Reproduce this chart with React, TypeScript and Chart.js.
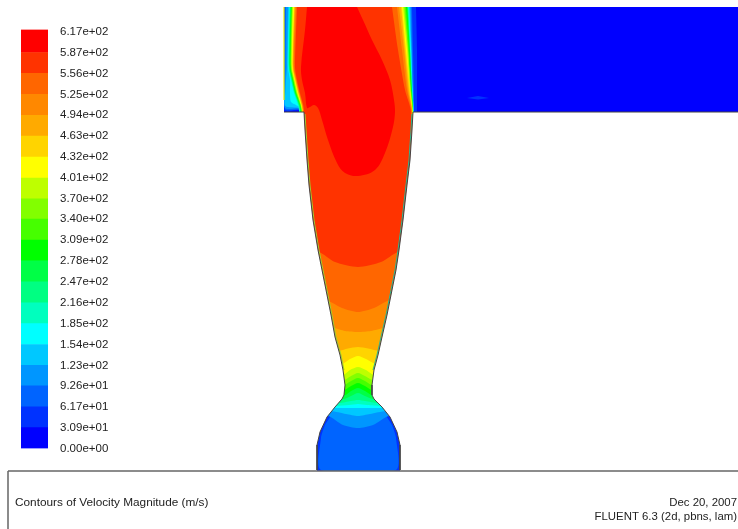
import React, { useEffect, useRef } from "react";
import { Chart, registerables } from "chart.js";

Chart.register(...registerables);

type P = [number, number];

// Legend
const tickValues = [617, 587, 556, 525, 494, 463, 432, 401, 370, 340, 309, 278, 247, 216, 185, 154, 123, 92.6, 61.7, 30.9, 0];
const tickLabels = ["6.17e+02", "5.87e+02", "5.56e+02", "5.25e+02", "4.94e+02", "4.63e+02", "4.32e+02", "4.01e+02", "3.70e+02", "3.40e+02", "3.09e+02", "2.78e+02", "2.47e+02", "2.16e+02", "1.85e+02", "1.54e+02", "1.23e+02", "9.26e+01", "6.17e+01", "3.09e+01", "0.00e+00"];
// band colours from lowest (index 0) to highest (index 19)
const bandColors = ["#0000ff", "#0032ff", "#0064ff", "#0096ff", "#00c8ff", "#00ffff", "#00ffbe", "#00ff82", "#00ff46", "#00ff00", "#46ff00", "#82ff00", "#beff00", "#ffff00", "#ffd400", "#ffaa00", "#ff8800", "#ff6600", "#ff3300", "#ff0000"];
const legendTop = 621;

const titleLeft = "Contours of Velocity Magnitude (m/s)";
const dateLine = "Dec 20, 2007";
const solverLine = "FLUENT 6.3 (2d, pbns, lam)";

// Domain walls
const wallLeft: P[] = [[284, 112], [304, 112], [305, 130], [307, 160], [309, 185], [313, 220], [318, 250], [322, 270], [326, 290], [331, 315], [335, 337], [340, 355], [343, 370], [345, 385], [344, 395], [342, 399], [335, 407], [327, 417], [320, 432], [317, 445], [317, 470]];
const wallRight: P[] = [[738, 112], [413, 112], [412, 130], [410, 160], [407, 185], [403, 220], [399, 250], [396, 270], [392, 290], [387, 315], [382, 337], [378, 355], [374, 370], [372, 385], [372, 395], [374, 399], [382, 407], [390, 417], [397, 432], [400, 445], [400, 470]];
const layerLeft: P[] = [[305, 114], [306, 130], [308, 160], [310, 185], [314, 220], [319, 250], [323, 270], [327, 290], [332, 315], [336, 337], [341, 355], [344, 370]];
const layerRight: P[] = [[412, 114], [411, 130], [409, 160], [406, 185], [402, 220], [398, 250], [395, 270], [391, 290], [386, 315], [381, 337], [377, 355], [373, 370]];
const inletEdge: P[] = [[284, 7], [284, 100]];
const baseBlue: P[] = [[284, 7], [738, 7], [738, 112], [284, 112]];
const streak: P[] = [[467, 98], [478, 96], [489, 98], [478, 99.5]];
const footerTop: P[] = [[8, 471], [738, 471]];
const footerLeft: P[] = [[8, 471], [8, 529]];

// Left shear layer, one outline per band (band 1 .. band 18)
const shearLeft: P[][] = [
  [[284, 7], [284, 110], [303, 112]],
  [[285, 7], [285, 109], [303, 111]],
  [[286, 7], [285.5, 67], [285, 80], [285, 108], [303, 110.5]],
  [[288, 7], [287, 67], [286, 80], [285.5, 90], [285.5, 106], [300, 108], [303, 110]],
  [[289, 7], [288, 67], [290, 80], [290, 93], [291, 102], [296, 105], [302, 109]],
  [[289.5, 7], [288.5, 67], [291, 80], [294, 93], [299, 110]],
  [[290, 7], [289, 67], [291.5, 80], [294.5, 93], [300, 110]],
  [[290.5, 7], [289.5, 67], [292, 80], [295, 93], [300, 110]],
  [[291, 7], [290, 67], [292.5, 80], [295.5, 93], [301, 110]],
  [[291.5, 7], [290.5, 67], [293, 80], [296, 93], [301, 110]],
  [[292, 7], [291, 67], [293.5, 80], [296.5, 93], [301.5, 110]],
  [[292.5, 7], [291.5, 67], [294, 80], [297, 93], [302, 110]],
  [[293, 7], [292, 67], [294.5, 80], [297.5, 93], [302, 110]],
  [[294, 7], [292.5, 67], [295, 80], [298, 93], [302.5, 110]],
  [[294.5, 7], [293, 67], [295.5, 80], [298.5, 93], [302.5, 110]],
  [[295, 7], [293.5, 67], [296, 80], [299, 93], [303, 110]],
  [[296, 7], [294, 67], [296.5, 80], [299.5, 93], [303.5, 110]],
  [[297, 7], [295, 67], [297, 80], [300, 93], [304, 110]],
];

// Right shear layer, one outline per band (band 1 .. band 18)
const shearRight: P[][] = [
  [[416, 7], [417, 50], [417, 90], [417, 112]],
  [[412, 7], [413, 50], [414, 90], [414, 112]],
  [[411, 7], [412, 50], [413, 90], [414, 112]],
  [[410, 7], [411.5, 50], [412.5, 90], [413.5, 112]],
  [[409, 7], [411, 50], [412.5, 90], [413.5, 112]],
  [[408.5, 7], [410.5, 50], [412, 90], [413, 112]],
  [[408, 7], [410, 50], [412, 90], [413, 112]],
  [[407.5, 7], [410, 50], [412, 90], [413, 112]],
  [[407, 7], [409.5, 50], [411.5, 90], [413, 112]],
  [[406, 7], [409, 50], [411, 90], [413, 112]],
  [[405, 7], [408, 50], [411, 90], [413, 112]],
  [[404, 7], [408, 50], [410.5, 90], [412.5, 112]],
  [[403, 7], [407, 50], [410, 90], [412.5, 112]],
  [[402, 7], [406, 50], [410, 90], [412, 112]],
  [[401, 7], [405, 50], [409, 90], [412, 112]],
  [[399, 7], [404, 50], [408, 90], [412, 112]],
  [[397, 7], [402, 50], [407, 90], [411.5, 112]],
  [[392, 7], [398, 50], [405, 90], [411, 112]],
];

// Lower contour of each band inside the nozzle (band 1 .. band 18)
const nozzleContours: P[][] = [
  [[310, 471], [410, 471]],
  [[331, 414], [325, 425], [321, 438], [321, 470], [396, 470], [396, 438], [392, 425], [386, 414]],
  [[328, 416], [343, 425], [358, 428], [373, 425], [389, 416]],
  [[331, 411], [346, 414], [358, 416], [370, 414], [386, 411]],
  [[334, 408], [347, 408], [358, 408], [369, 408], [383, 408]],
  [[336, 406], [349, 405], [358, 404], [367, 405], [381, 406]],
  [[339, 403], [351, 401], [358, 400], [365, 401], [378, 403]],
  [[344, 399], [351, 396], [358, 393], [365, 396], [373, 399]],
  [[345, 395], [351, 391], [358, 388], [365, 391], [372, 395]],
  [[344, 390], [351, 386], [358, 383], [365, 386], [372, 390]],
  [[344, 385], [351, 381], [358, 378], [365, 381], [372, 385]],
  [[344, 380], [351, 376], [358, 373], [365, 376], [373, 380]],
  [[343, 375], [350, 370], [358, 367], [366, 370], [374, 375]],
  [[342, 364], [350, 359], [358, 356], [366, 359], [376, 364]],
  [[338, 351], [348, 348.5], [358, 347], [368, 348.5], [380, 351]],
  [[334, 328], [345, 331], [358, 332], [371, 331], [384, 328]],
  [[328, 301], [342, 308], [358, 312], [374, 308], [390, 300]],
  [[319, 252], [335, 262], [358, 267], [381, 262], [398, 252]],
];

// Core of the jet (highest band)
const redCore: P[] = [[307, 7], [305, 30], [301, 67], [302, 80], [305, 93], [307, 108], [310, 107], [314, 105], [318, 108], [322, 120], [328, 140], [337, 163], [345, 173], [358, 176], [375, 170], [385, 153], [393, 127], [395, 112], [394, 100], [390, 80], [382, 60], [372, 40], [363, 20], [357, 7]];

// White areas outside the flow domain
const maskTop: P[] = [[0, 0], [738, 0], [738, 7], [0, 7]];
const maskLeftSide: P[] = [[0, 7], [284, 7], [284, 112], ...wallLeft, [317, 471], [0, 471]];
const maskRightSide: P[] = [...wallRight, [400, 471], [738, 471]];
const maskBottom: P[] = [[0, 471], [738, 471], [738, 529], [0, 529]];

const pts = (p: P[]) => p.map(([x, y]) => ({ x, y }));

function poly(points: P[], color: string, tension = 0) {
  return { data: pts(points), showLine: true, pointRadius: 0, borderWidth: 0, backgroundColor: color, fill: "shape", tension };
}
function stroke(points: P[], color: string, width: number) {
  return { data: pts(points), showLine: true, pointRadius: 0, borderWidth: width, borderColor: color, fill: false, tension: 0 };
}

function bandOutline(i: number): P[] {
  const l = shearLeft[i];
  const r = shearRight[i];
  const c = nozzleContours[i];
  const lastL = l[l.length - 1][0];
  const lastR = r[r.length - 1][0];
  return [...l, [lastL, c[0][1]], ...c, [lastR, c[c.length - 1][1]], ...[...r].reverse()];
}

const footerPlugin = {
  id: "footer",
  afterDraw(chart: Chart) {
    const ctx = chart.ctx;
    ctx.save();
    ctx.fillStyle = "#222";
    ctx.textBaseline = "middle";
    ctx.textAlign = "left";
    ctx.font = '11.8px "Liberation Sans"';
    ctx.fillText(titleLeft, 15, 503);
    ctx.textAlign = "right";
    ctx.font = '11.4px "Liberation Sans"';
    ctx.fillText(dateLine, 737, 503);
    ctx.fillText(solverLine, 737, 517);
    ctx.restore();
  },
};

export default function App() {
  const mainRef = useRef<HTMLCanvasElement>(null);
  const legendRef = useRef<HTMLCanvasElement>(null);

  useEffect(() => {
    const back: any[] = [poly(baseBlue, bandColors[0]), poly(streak, bandColors[1])];
    shearLeft.forEach((_, i) => back.push(poly(bandOutline(i), bandColors[i + 1], 0.25)));
    back.push(poly(redCore, bandColors[19], 0.35));
    back.push(poly(maskTop, "#ffffff"), poly(maskLeftSide, "#ffffff"), poly(maskRightSide, "#ffffff"), poly(maskBottom, "#ffffff"));
    back.push(stroke(layerLeft, "#9ccf30", 1), stroke(layerRight, "#30b890", 1));
    back.push(stroke(wallLeft, "#444444", 1), stroke(wallRight, "#444444", 1));
    back.push(stroke(inletEdge, "#e8f000", 1.2));
    back.push(stroke(footerTop, "#666666", 1.5), stroke(footerLeft, "#666666", 1.5));

    const main = new Chart(mainRef.current!, {
      type: "scatter",
      data: { datasets: back.reverse() },
      options: {
        animation: false,
        responsive: false,
        maintainAspectRatio: false,
        layout: { padding: 0 },
        plugins: { legend: { display: false }, tooltip: { enabled: false } },
        scales: {
          x: { type: "linear", min: 0, max: 738, display: false },
          y: { type: "linear", min: 0, max: 529, reverse: true, display: false },
        },
      },
      plugins: [footerPlugin],
    } as any);

    const lows = [...tickValues].reverse().slice(0, bandColors.length);
    const highs = [...lows.slice(1), legendTop];
    const legend = new Chart(legendRef.current!, {
      type: "bar",
      data: {
        labels: ["band"],
        datasets: bandColors.map((c, i) => ({
          data: [[lows[i], highs[i]]],
          backgroundColor: c,
          borderWidth: 0,
          barPercentage: 1,
          categoryPercentage: 1,
          grouped: false,
        })),
      },
      options: {
        animation: false,
        responsive: false,
        maintainAspectRatio: false,
        layout: { autoPadding: false, padding: { left: 21, top: 29.6, bottom: 31.6, right: 0 } },
        plugins: { legend: { display: false }, tooltip: { enabled: false } },
        scales: {
          x: { display: false },
          y: {
            position: "right",
            min: 0,
            max: legendTop,
            grid: { display: false, drawTicks: false },
            border: { display: false },
            afterBuildTicks: (s: any) => { s.ticks = tickValues.map((value) => ({ value })); },
            afterFit: (s: any) => { s.width = 72; },
            ticks: {
              autoSkip: false,
              padding: 12,
              color: "#222",
              font: { family: '"Liberation Sans"', size: 11.5 },
              callback: (v: any) => tickLabels[tickValues.indexOf(Number(v))],
            },
          },
        },
      },
    } as any);

    return () => { main.destroy(); legend.destroy(); };
  }, []);

  return (
    <div style={{ position: "fixed", left: 0, top: 0, width: 738, height: 529, background: "#fff", overflow: "hidden" }}>
      <canvas ref={mainRef} width={738} height={529} style={{ position: "absolute", left: 0, top: 0, width: 738, height: 529 }} />
      <canvas ref={legendRef} width={120} height={480} style={{ position: "absolute", left: 0, top: 0, width: 120, height: 480 }} />
    </div>
  );
}
